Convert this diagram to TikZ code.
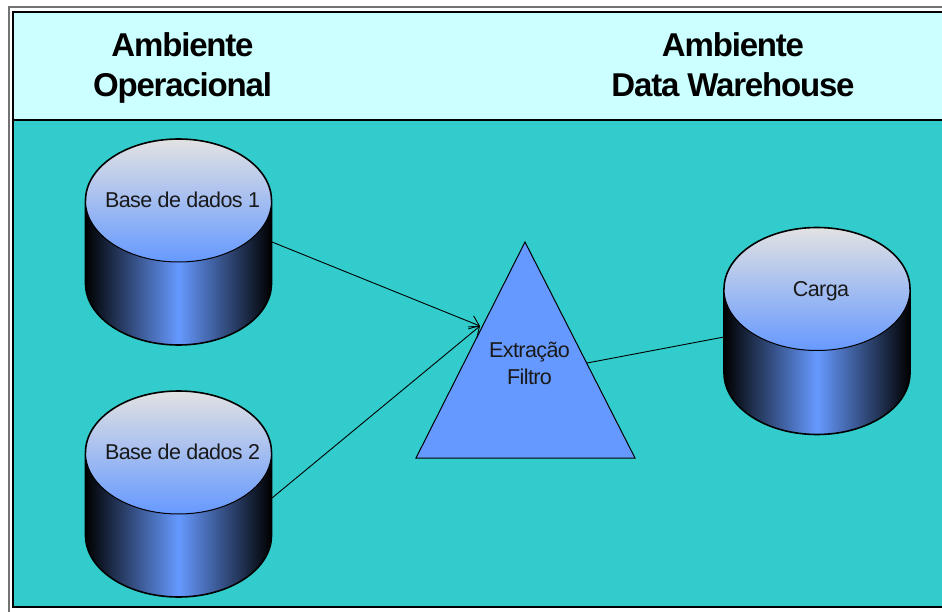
\documentclass[tikz,border=0pt]{standalone}
\usepackage{fontspec}
\setmainfont{Liberation Sans}
\usetikzlibrary{arrows.meta}
\definecolor{teal1}{HTML}{33CCCC}
\definecolor{pale}{HTML}{CCFFFF}
\definecolor{blue1}{HTML}{6699FF}
\definecolor{top1}{HTML}{E2E2E2}
\newfontfamily\headfont[LetterSpace=-3.6,BoldFont={Liberation Sans Bold}]{Liberation Sans}
\newfontfamily\labfont[LetterSpace=-2.7]{Liberation Sans}
\tikzset{
  panel/.style={draw=black,line width=1.2pt},
  head/.style={font=\headfont\fontsize{33}{41}\selectfont\bfseries,align=center,text=black,inner sep=0pt},
  lab/.style={font=\labfont\fontsize{21.5}{27}\selectfont,align=center,text=black!90,inner sep=0pt},
  link/.style={draw=black,line width=0.9pt},
  rim/.style={draw=black,line width=1.6pt},
}
\newcommand{\dbcyl}[5]{% name, cx, top cy, text, body height
  \begin{scope}
    \clip (#2-93,#3) -- ++(0,#5) arc[start angle=180,end angle=0,x radius=93,y radius=61.5] -- (#2+93,#3) -- cycle;
    \shade[left color=black,right color=black,middle color=blue1] (#2-93,#3-1) rectangle (#2+93,#3+#5+63);
  \end{scope}
  \draw[rim] (#2-93,#3) -- ++(0,#5) arc[start angle=180,end angle=0,x radius=93,y radius=61.5] -- ++(0,-#5);
  \shade[top color=top1,bottom color=blue1] (#2,#3) ellipse[x radius=93,y radius=61.5];
  \draw[rim] (#2-93,#3) arc[start angle=180,end angle=360,x radius=93,y radius=61.5];
  \draw[draw=black,line width=1pt] (#2-93,#3) arc[start angle=180,end angle=0,x radius=93,y radius=61.5];
  \node[lab,anchor=base] (#1) at (#2+4,#3+7) {#4};
}
\begin{document}
\begin{tikzpicture}[x=1pt,y=-1pt]
\useasboundingbox (0,0) rectangle (942,612);
\fill[white] (0,0) rectangle (942,612);
\draw[draw=black!55,line width=1.4pt] (9,612) -- (9,7) -- (942,7);
\fill[pale] (13,12) rectangle (942,120);
\fill[teal1] (13,120) rectangle (942,607);
\draw[panel] (942,12) -- (13,12) -- (13,607) -- (942,607);
\draw[panel] (13,120) -- (942,120);
\node[head] (h1) at (182.5,67.5) {Ambiente\\[-1pt]Operacional};
\node[head] (h2) at (733,65) {Ambiente\\[-1pt]Data Warehouse};
\dbcyl{db1}{178.5}{200.5}{Base de dados 1}{83}
\dbcyl{db2}{178.5}{452.5}{Base de dados 2}{83}
\dbcyl{db3}{817}{289}{Carga}{84}
\draw[fill=blue1,draw=black,line width=1pt] (525,242) -- (635,458) -- (416,458) -- cycle;
\node[lab] (tri) at (529.5,363.5) {Extração\\Filtro};
\coordinate (d1e) at (272,242);
\coordinate (d2e) at (272,498);
\coordinate (d3w) at (724,337);
\coordinate (tw) at (480,326);
\coordinate (te) at (587,363);
\draw[link,-{Straight Barb[length=9pt,width=14pt]}] (d1e) -- (tw);
\draw[link,-{Straight Barb[length=9pt,width=14pt]}] (d2e) -- (tw);
\draw[link] (te) -- (d3w);
\end{tikzpicture}
\end{document}
